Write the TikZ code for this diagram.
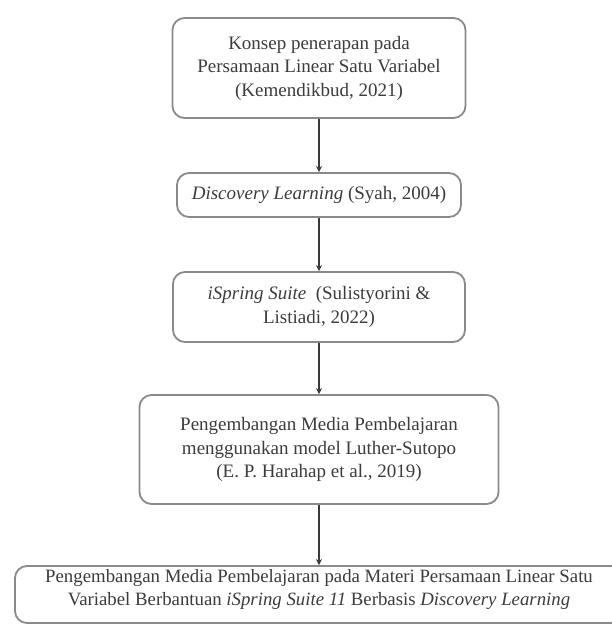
\documentclass[tikz,border=0pt]{standalone}
\usepackage{fontspec}
\setmainfont{Liberation Serif}
\usetikzlibrary{arrows.meta}
\definecolor{boxgray}{HTML}{8A8A8A}
\definecolor{txtgray}{HTML}{3C3C3C}
\definecolor{arrgray}{HTML}{3A3A3A}
\tikzset{
  flowbox/.style={draw=boxgray, line width=1.8pt, rounded corners=12pt, fill=white,
    align=center, text=txtgray, inner sep=0pt, font=\fontsize{19}{23.5}\selectfont},
  flowarrow/.style={draw=arrgray, line width=1.3pt, -{Stealth[length=6pt,width=6pt]}}
}
\begin{document}
\begin{tikzpicture}[x=1pt,y=-1pt]
\useasboundingbox[fill=white] (0,0) rectangle (611,624);
\node[flowbox, minimum width=293pt, minimum height=100pt] (b1) at (319,68)
  {Konsep penerapan pada\\Persamaan Linear Satu Variabel\\(Kemendikbud, 2021)};
\node[flowbox, minimum width=284pt, minimum height=44pt] (b2) at (319,195)
  {\textit{Discovery Learning} (Syah, 2004)};
\node[flowbox, minimum width=292pt, minimum height=70pt] (b3) at (319,307)
  {\textit{iSpring Suite}\ \ (Sulistyorini \&\\Listiadi, 2022)};
\node[flowbox, minimum width=359pt, minimum height=109pt] (b4) at (319,449.5)
  {Pengembangan Media Pembelajaran\\menggunakan model Luther-Sutopo\\(E. P. Harahap et al., 2019)};
\node[flowbox, minimum width=608pt, minimum height=57pt, text depth=14pt,
  font=\fontsize{18.8}{23}\selectfont] (b5) at (319,594.5)
  {Pengembangan Media Pembelajaran pada Materi Persamaan Linear Satu\\Variabel Berbantuan \textit{iSpring Suite 11} Berbasis \textit{Discovery Learning}};
\draw[flowarrow] (b1.south) -- (b2.north);
\draw[flowarrow] (b2.south) -- (b3.north);
\draw[flowarrow] (b3.south) -- (b4.north);
\draw[flowarrow] (b4.south) -- (b5.north);
\end{tikzpicture}
\end{document}
